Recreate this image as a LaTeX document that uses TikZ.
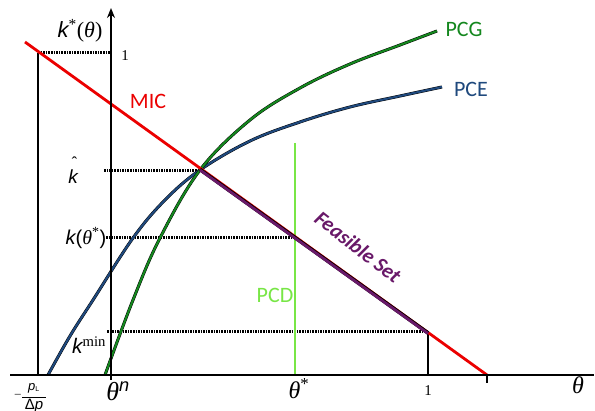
\documentclass[tikz,border=0pt]{standalone}
\usepackage{fontspec}
\setmainfont{Liberation Serif}
\newfontfamily\arial{Liberation Sans}
\newfontfamily\calib{Carlito}
\usetikzlibrary{arrows.meta}
\definecolor{micred}{RGB}{235,0,0}
\definecolor{pceblue}{RGB}{31,73,125}
\definecolor{pcggreen}{RGB}{20,135,30}
\definecolor{pcdgreen}{RGB}{120,230,70}
\definecolor{feaspurple}{RGB}{105,25,105}
\tikzset{
  axis/.style={line width=2pt, black},
  dotline/.style={line width=3pt, dash pattern=on 1.6pt off 1pt, black},
  guide/.style={line width=1.6pt, black},
  lbl/.style={font=\calib\fontsize{22}{22}\selectfont, inner sep=1pt},
}
\begin{document}
\begin{tikzpicture}[x=1pt,y=-1pt]
\useasboundingbox (0,0) rectangle (595,411);
\fill[white] (0,0) rectangle (595,411);
% key points
\coordinate (xs) at (10,375);
\coordinate (xe) at (594,375);
\coordinate (ys) at (111,380);
\coordinate (ye) at (111,8);
\coordinate (micA) at (25,42);
\coordinate (micB) at (487,375);
\coordinate (lv0) at (38,375);
\coordinate (lv1) at (38,53);
\coordinate (one) at (111,53);
\coordinate (kh0) at (104,171);
\coordinate (kh1) at (200,171);
\coordinate (ks0) at (106,238);
\coordinate (ks1) at (296,238);
\coordinate (km0) at (107,332);
\coordinate (km1) at (428,332);
\coordinate (kmb) at (428,375);
\coordinate (pcd0) at (295,143);
\coordinate (pcd1) at (295,375);
\coordinate (tk0) at (487,375);
\coordinate (tk1) at (487,383);
\coordinate (fs0) at (200,169.5);
\coordinate (fs1) at (428,333);
\coordinate (fb0) at (22,397);
\coordinate (fb1) at (46,397);
% guides
\draw[guide] (lv0) -- (lv1);
\draw[dotline] (lv1) -- (one);
\draw[dotline] (kh0) -- (kh1);
\draw[dotline] (ks0) -- (ks1);
\draw[dotline] (km0) -- (km1);
\draw[guide] (km1) -- (kmb);
\draw[line width=1.6pt] (tk0) -- (tk1);
% PCD
\draw[pcdgreen, line width=1.8pt] (pcd0) -- (pcd1);
% curves
\draw[black, line width=3pt] plot[smooth, tension=0.6] coordinates {(48,375) (70,336) (93,300) (133,238) (165,200) (200,170) (250,141) (300,122) (350,107) (400,96) (442,87)};
\draw[pceblue, line width=2.1pt] plot[smooth, tension=0.6] coordinates {(48,375) (70,336) (93,300) (133,238) (165,200) (200,170) (250,141) (300,122) (350,107) (400,96) (442,87)};
\draw[black, line width=3pt] plot[smooth, tension=0.6] coordinates {(105,375) (133,300) (160,238) (200,170) (250,120) (300,88) (350,64) (400,45) (437,31)};
\draw[pcggreen, line width=2.1pt] plot[smooth, tension=0.6] coordinates {(105,375) (133,300) (160,238) (200,170) (250,120) (300,88) (350,64) (400,45) (437,31)};
% MIC
\draw[micred, line width=2.8pt] (micA) -- (micB);
% feasible set
\draw[black, line width=3.6pt] (fs0) -- (fs1);
\draw[feaspurple, line width=2.8pt] ([yshift=-0.5pt]fs0) -- ([yshift=-0.5pt]fs1);
% axes
\draw[axis] (xs) -- (xe);
\draw[axis, -{Stealth[length=10pt,width=8pt]}] (ys) -- (ye);
% labels
\node[font=\arial\itshape\fontsize{22}{22}\selectfont, inner sep=0pt] (ky) at (80,31) {k\textsuperscript{\rmfamily\upshape *}\rmfamily\upshape(\itshape θ\upshape)};
\node[font=\fontsize{15}{15}\selectfont, inner sep=0pt] (lone) at (125,56) {1};
\node[lbl, micred] (mic) at (148,101) {MIC};
\node[lbl, pcggreen] (pcg) at (464,29) {PCG};
\node[lbl, pceblue] (pce) at (471,89) {PCE};
\node[lbl, pcdgreen] (pcd) at (275,295) {PCD};
\node[feaspurple, font=\calib\bfseries\itshape\fontsize{21}{21}\selectfont, rotate=-38, inner sep=0pt] (fs) at (358,247) {Feasible Set};
\node[font=\arial\itshape\fontsize{19}{19}\selectfont, inner sep=0pt] (kh) at (73,177) {k};
\node[font=\arial\fontsize{16}{16}\selectfont, inner sep=0pt] at (74.5,163) {\char"02C6};
\node[font=\arial\itshape\fontsize{20}{20}\selectfont, inner sep=0pt] (kt) at (86,238) {k\upshape(\rmfamily\itshape θ\textsuperscript{\upshape *}\arial\upshape)};
\node[font=\arial\itshape\fontsize{21}{21}\selectfont, inner sep=0pt] (km) at (89,345) {k\textsuperscript{\rmfamily\upshape min}};
\node[font=\rmfamily\itshape\fontsize{26}{26}\selectfont, inner sep=0pt] (tn) at (118,391) {θ\textsuperscript{\arial n}};
\node[font=\rmfamily\itshape\fontsize{24}{24}\selectfont, inner sep=0pt] (ts) at (299,389) {θ\textsuperscript{\upshape *}};
\node[font=\fontsize{15}{15}\selectfont, inner sep=0pt] (t1) at (428,391) {1};
\node[font=\rmfamily\itshape\fontsize{24}{24}\selectfont, inner sep=0pt] (th) at (578,385) {θ};
\node[font=\fontsize{12}{12}\selectfont, inner sep=0pt] (mn) at (18,396) {–};
\node[font=\arial\itshape\fontsize{13}{13}\selectfont, inner sep=0pt] (plab) at (34,388) {p\textsubscript{\upshape\fontsize{7}{7}\selectfont L}};
\draw[line width=0.7pt] (fb0) -- (fb1);
\node[font=\arial\fontsize{15}{15}\selectfont, inner sep=0pt, anchor=north] (dp) at (34,399) {Δ\itshape p};
\end{tikzpicture}
\end{document}
